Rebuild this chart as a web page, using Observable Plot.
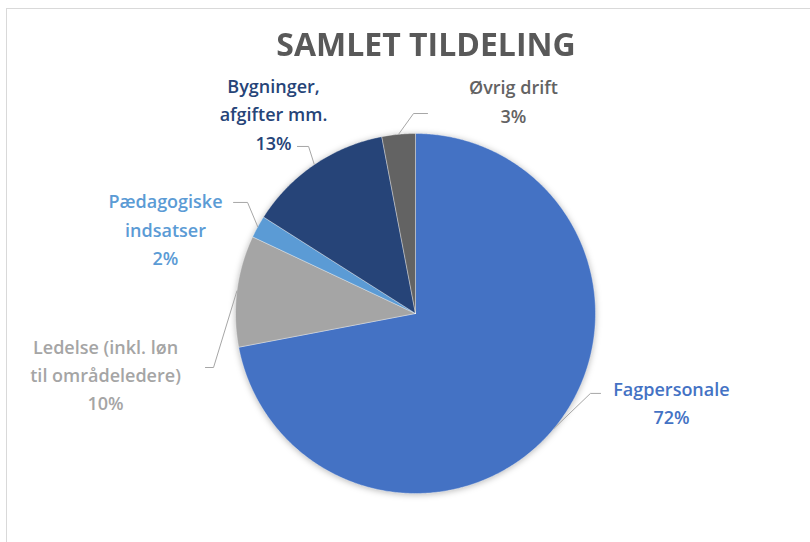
<!DOCTYPE html>
<html><head><meta charset="utf-8">
<script src="https://cdn.jsdelivr.net/npm/d3@7"></script>
<script src="https://cdn.jsdelivr.net/npm/@observablehq/plot@0.6"></script>
<style>
html,body{margin:0;padding:0;background:#fff;}
#wrap{position:relative;width:810px;height:542px;overflow:hidden;font-family:"Liberation Sans",Arial,sans-serif;}
#frame{position:absolute;left:6px;top:8px;width:830px;height:580px;border:1px solid #d9d9d9;box-sizing:border-box;}
#title{position:absolute;left:21px;width:810px;top:27px;text-align:center;font-family:"Open Sans",sans-serif;font-size:33px;line-height:34px;font-weight:700;color:#595959;transform:scaleX(0.97);}
#chart{position:absolute;left:0;top:0;}
</style></head><body>
<div id="wrap"><div id="frame"></div><div id="title">SAMLET TILDELING</div><div id="chart"></div></div>
<script>
// ---- data ----
const categories = ["Fagpersonale", "Ledelse (inkl. løn til områdeledere)", "Pædagogiske indsatser", "Bygninger, afgifter mm.", "Øvrig drift"];
const values = [72, 10, 2, 13, 3];
const labelLines = [["Fagpersonale"], ["Ledelse (inkl. løn", "til områdeledere)"], ["Pædagogiske", "indsatser"], ["Bygninger,", "afgifter mm."], ["Øvrig drift"]];
const colors = ["#4472C4", "#A5A5A5", "#5B9BD5", "#264478", "#636363"];

// ---- layout (unit-circle coordinates, pie radius = 1) ----
const labelPos = [[1.422, -0.486], [-1.722, -0.33], [-1.389, 0.478], [-0.789, 1.119], [0.544, 1.189]];
const leaderBend = [[[0.972, -0.444], [1.028, -0.444]], [[-1.122, -0.30], [-1.167, -0.30]], [[-0.933, 0.617], [-1.011, 0.617]], [[-0.594, 0.928], [-0.656, 0.928]], [[-0.011, 1.111], [0.067, 1.111]]];

const arcs = d3.pie().sort(null).value(d => d)(values);

const sliceRows = [];
arcs.forEach((a, i) => {
  const cat = categories[i];
  sliceRows.push({cat, x: 0, y: 0});
  const n = Math.max(4, Math.ceil((a.endAngle - a.startAngle) / (Math.PI / 360)));
  for (let k = 0; k <= n; k++) {
    const t = a.startAngle + (a.endAngle - a.startAngle) * k / n;
    sliceRows.push({cat, x: Math.sin(t), y: Math.cos(t)});
  }
  sliceRows.push({cat, x: 0, y: 0});
});

const leaderRows = [];
arcs.forEach((a, i) => {
  const cat = categories[i];
  const m = (a.startAngle + a.endAngle) / 2;
  leaderRows.push({cat, x: Math.sin(m), y: Math.cos(m)});
  leaderBend[i].forEach(p => leaderRows.push({cat, x: p[0], y: p[1]}));
});

const labelRows = categories.map((cat, i) => ({
  cat, x: labelPos[i][0], y: labelPos[i][1],
  text: labelLines[i].join("\n") + "\n" + values[i] + "%"
}));

const chart = Plot.plot({
  width: 810, height: 542,
  marginTop: 0, marginRight: 0, marginBottom: 0, marginLeft: 0,
  x: {domain: [-1, 1], range: [235, 595], axis: null},
  y: {domain: [-1, 1], range: [493, 133], axis: null},
  color: {domain: categories, range: colors},
  style: {background: "transparent", fontFamily: "Open Sans, sans-serif", overflow: "visible"},
  marks: [
    Plot.line(sliceRows, {x: "x", y: "y", z: "cat", fill: "cat", stroke: "white", strokeWidth: 0.6, strokeOpacity: 0.6}),
    Plot.line(leaderRows, {x: "x", y: "y", z: "cat", stroke: "#a6a6a6", strokeWidth: 1}),
    Plot.text(labelRows, {x: "x", y: "y", text: "text", fill: "cat", fontSize: 18, fontWeight: 600, lineHeight: 1.58, textAnchor: "middle", lineAnchor: "middle"})
  ]
});
document.getElementById("chart").appendChild(chart);
const g = d3.select(chart).select('g[aria-label="line"]');
g.style("filter", "drop-shadow(0px 1px 3px rgba(0,0,0,0.28))");
</script>
</body></html>
